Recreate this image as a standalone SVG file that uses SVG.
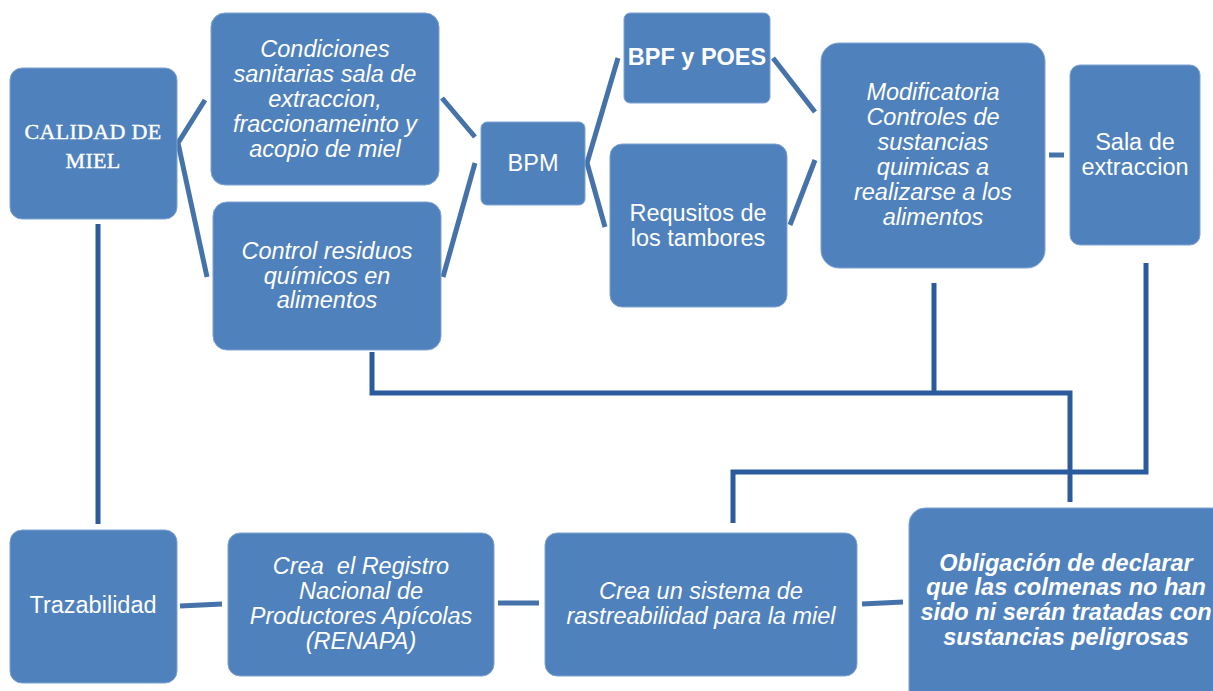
<svg xmlns="http://www.w3.org/2000/svg" width="1213" height="691" viewBox="0 0 1213 691">
  <style>
    .box { fill: #4F81BD; stroke: #7FA3D2; stroke-width: 1; }
    .t { font-family: "Liberation Sans", Arial, sans-serif; font-size: 23.5px; fill: #FFFFFF; text-anchor: middle; }
    .it { font-style: italic; }
    .b { font-weight: bold; }
    .deco { font-family: "Liberation Serif", "Times New Roman", serif; font-size: 22px; fill: #FFFFFF; stroke: #FFFFFF; stroke-width: 0.4; text-anchor: middle; letter-spacing: 0.3px; }
    .lk { fill: none; stroke: #4672AA; stroke-width: 5; }
    .wire { fill: none; stroke: #2A5C9D; stroke-width: 5; }
  </style>
  <rect width="1213" height="691" fill="#FFFFFF"/>

  <!-- connectors -->
  <g id="connectors">
    <polyline class="lk" points="205,100 178,143 207,277"/>
    <line class="lk" x1="442" y1="98" x2="475" y2="137"/>
    <line class="lk" x1="443" y1="277" x2="475" y2="163"/>
    <polyline class="lk" points="618,58 587,163 605,227"/>
    <line class="lk" x1="773" y1="58" x2="815" y2="112"/>
    <line class="lk" x1="790" y1="225" x2="815" y2="160"/>
    <line class="lk" x1="1049" y1="155" x2="1064" y2="155"/>
    <line class="lk" x1="180" y1="606" x2="222" y2="604"/>
    <line class="lk" x1="498" y1="603" x2="539" y2="603"/>
    <line class="lk" x1="862" y1="604" x2="903" y2="602"/>
    <line class="wire" x1="98" y1="224" x2="98" y2="524"/>
    <polyline class="wire" points="372,352 372,393 1070,393 1070,502"/>
    <line class="wire" x1="934" y1="283" x2="934" y2="393"/>
    <polyline class="wire" points="1146,263 1146,472 733,472 733,523"/>
  </g>

  <g id="calidad">
    <rect class="box" x="10" y="68" width="167" height="151" rx="12"/>
    <text class="deco" x="93" y="139">CALIDAD DE</text>
    <text class="deco" x="93" y="168">MIEL</text>
  </g>

  <g id="condiciones">
    <rect class="box" x="211" y="13" width="228" height="172" rx="14"/>
    <text class="t it" x="325" y="57">Condiciones</text>
    <text class="t it" x="325" y="82">sanitarias sala de</text>
    <text class="t it" x="325" y="107">extraccion,</text>
    <text class="t it" x="325" y="132">fraccionameinto y</text>
    <text class="t it" x="325" y="157">acopio de miel</text>
  </g>

  <g id="control">
    <rect class="box" x="213" y="202" width="228" height="148" rx="14"/>
    <text class="t it" x="327" y="259">Control residuos</text>
    <text class="t it" x="327" y="284">químicos en</text>
    <text class="t it" x="327" y="308">alimentos</text>
  </g>

  <g id="bpm">
    <rect class="box" x="481" y="122" width="104" height="83" rx="6"/>
    <text class="t" x="533" y="171">BPM</text>
  </g>

  <g id="bpf">
    <rect class="box" x="624" y="13" width="146" height="90" rx="6"/>
    <text class="t b" x="697" y="65">BPF y POES</text>
  </g>

  <g id="tambores">
    <rect class="box" x="610" y="144" width="177" height="163" rx="12"/>
    <text class="t" x="698" y="221">Requsitos de</text>
    <text class="t" x="698" y="246">los tambores</text>
  </g>

  <g id="modificatoria">
    <rect class="box" x="821" y="43" width="224" height="225" rx="18"/>
    <text class="t it" x="933" y="100">Modificatoria</text>
    <text class="t it" x="933" y="125">Controles de</text>
    <text class="t it" x="933" y="150">sustancias</text>
    <text class="t it" x="933" y="175">quimicas a</text>
    <text class="t it" x="933" y="200">realizarse a los</text>
    <text class="t it" x="933" y="225">alimentos</text>
  </g>

  <g id="sala">
    <rect class="box" x="1070" y="65" width="130" height="180" rx="10"/>
    <text class="t" x="1135" y="150">Sala de</text>
    <text class="t" x="1135" y="175">extraccion</text>
  </g>

  <g id="trazabilidad">
    <rect class="box" x="10" y="530" width="167" height="153" rx="12"/>
    <text class="t" x="93" y="613">Trazabilidad</text>
  </g>

  <g id="renapa">
    <rect class="box" x="228" y="533" width="266" height="143" rx="12"/>
    <text class="t it" x="361" y="574" xml:space="preserve">Crea  el Registro</text>
    <text class="t it" x="361" y="599">Nacional de</text>
    <text class="t it" x="361" y="624">Productores Apícolas</text>
    <text class="t it" x="361" y="649">(RENAPA)</text>
  </g>

  <g id="rastreabilidad">
    <rect class="box" x="545" y="533" width="312" height="143" rx="12"/>
    <text class="t it" x="701" y="599">Crea un sistema de</text>
    <text class="t it" x="701" y="624">rastreabilidad para la miel</text>
  </g>

  <g id="obligacion">
    <rect class="box" x="909" y="508" width="320" height="200" rx="16"/>
    <text class="t it b" x="1066" y="571">Obligación de declarar</text>
    <text class="t it b" x="1066" y="595">que las colmenas no han</text>
    <text class="t it b" x="1066" y="620">sido ni serán tratadas con</text>
    <text class="t it b" x="1066" y="645">sustancias peligrosas</text>
  </g>
</svg>
